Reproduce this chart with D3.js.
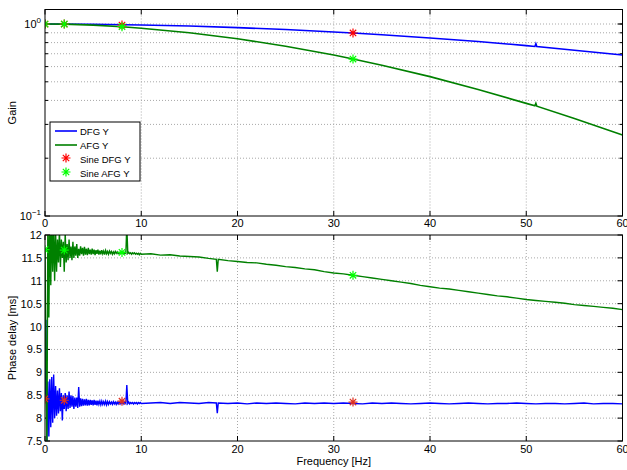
<!DOCTYPE html>
<html>
<head>
<meta charset="UTF-8">
<title>Gain and phase delay</title>
<script src="https://d3js.org/d3.v7.min.js"></script>
<style>
  body { margin: 0; background: #fff; font-family: "Liberation Sans", Arial, Helvetica, sans-serif; }
  .grid line { stroke: #a8a8a8; stroke-dasharray: 1,2; stroke-width: 1; }
  .tick-label { font-size: 11px; fill: #000; }
  .axis-title { font-size: 11px; fill: #000; }
  .legend text { font-size: 9.5px; fill: #000; }
</style>
</head>
<body>
<div id="chart"></div>
<script>
// ---- data ----
const xTicks = [0, 10, 20, 30, 40, 50, 60];
const gainMinor = [0.2, 0.3, 0.4, 0.5, 0.6, 0.7, 0.8, 0.9, 1];
const phaseTicks = [7.5, 8, 8.5, 9, 9.5, 10, 10.5, 11, 11.5, 12];

// gain curves
const gainFreqDFG = [0, 5, 10, 15, 20, 25, 30, 32, 35, 40, 45, 50, 50.9, 51, 51.1, 55, 60];
const gainDFG     = [1.0, 0.997, 0.989, 0.976, 0.958, 0.936, 0.909, 0.898, 0.879, 0.846, 0.81, 0.772, 0.764, 0.79, 0.763, 0.73, 0.689];
const gainFreqAFG = [0, 2, 5, 8, 10, 15, 20, 25, 30, 32, 35, 40, 45, 50, 50.9, 51, 51.1, 55, 60];
const gainAFG     = [1.0, 0.998, 0.987, 0.968, 0.951, 0.901, 0.838, 0.766, 0.689, 0.657, 0.61, 0.532, 0.456, 0.386, 0.375, 0.386, 0.373, 0.322, 0.264];

// sine measurements
const sineFreq     = [0, 2, 8, 32];
const sineGainDFG  = [1.0, 1.0, 0.988, 0.898];
const sineGainAFG  = [1.0, 1.0, 0.968, 0.657];
const sinePhaseDFG = [8.42, 8.39, 8.37, 8.35];
const sinePhaseAFG = [11.68, 11.67, 11.62, 11.12];

// phase delay, 0..10 Hz every 0.1 Hz
const lowFreq = d3.range(0, 101).map(i => i / 10);
const lowPhaseAFG = [
  11.70, 9.0, 7.3, 12.6, 10.2, 12.4, 10.9, 12.3, 11.2, 12.2,
  11.0, 12.1, 11.2, 11.9, 11.4, 12.1, 11.3, 11.9, 11.5, 11.85,
  11.2, 12.05, 11.4, 11.8, 11.45, 11.9, 11.5, 11.75, 11.45, 11.85,
  11.5, 11.75, 11.55, 11.8, 11.5, 11.7, 11.55, 11.75, 11.58, 11.72,
  11.55, 11.74, 11.57, 11.7, 11.56, 11.72, 11.58, 11.68, 11.57, 11.7,
  11.58, 11.68, 11.56, 11.67, 11.59, 11.68, 11.57, 11.66, 11.58, 11.67,
  11.59, 11.65, 11.57, 11.66, 11.59, 11.64, 11.58, 11.65, 11.6, 11.64,
  11.58, 11.63, 11.59, 11.64, 11.6, 11.63, 11.59, 11.62, 11.6, 11.63,
  11.6, 11.62, 11.59, 11.62, 11.6, 12.2, 11.6, 11.62, 11.59, 11.61,
  11.58, 11.61, 11.59, 11.61, 11.58, 11.6, 11.58, 11.6, 11.57, 11.6,
  11.58
];
const lowPhaseDFG = [
  8.42, 10.15, 7.4, 8.8, 7.6, 8.85, 7.8, 8.9, 7.9, 8.95,
  8.0, 8.7, 8.05, 8.6, 8.1, 8.65, 8.15, 8.55, 7.95, 8.5,
  8.2, 8.55, 8.15, 8.5, 8.2, 8.58, 8.22, 8.5, 8.25, 8.48,
  8.2, 8.45, 8.25, 8.45, 8.22, 8.68, 8.25, 8.43, 8.26, 8.42,
  8.27, 8.41, 8.28, 8.42, 8.27, 8.4, 8.28, 8.4, 8.29, 8.39,
  8.28, 8.4, 8.29, 8.38, 8.28, 8.38, 8.3, 8.37, 8.29, 8.37,
  8.3, 8.36, 8.3, 8.37, 8.29, 8.36, 8.3, 8.36, 8.31, 8.35,
  8.3, 8.36, 8.31, 8.35, 8.3, 8.35, 8.31, 8.35, 8.31, 8.35,
  8.32, 8.35, 8.31, 8.35, 8.32, 8.72, 8.32, 8.35, 8.31, 8.34,
  8.32, 8.34, 8.31, 8.34, 8.32, 8.34, 8.31, 8.34, 8.32, 8.34,
  8.32
];

// phase delay above 10 Hz
const hiFreq = [11, 12, 13, 14, 15, 16, 17, 17.8, 17.9, 18, 19, 20, 21, 22, 23, 24, 25, 26, 27, 28, 29,
  30, 31, 32, 33, 34, 35, 36, 37, 38, 39, 40, 41, 42, 43, 44, 45, 46, 47, 48, 49, 50,
  51, 52, 53, 54, 55, 56, 57, 58, 59, 60];
const hiPhaseAFG = [11.59, 11.56, 11.57, 11.54, 11.53, 11.52, 11.49, 11.47, 11.2, 11.47, 11.44, 11.42, 11.40, 11.39, 11.36, 11.34, 11.31, 11.29, 11.26, 11.24, 11.2,
  11.17, 11.15, 11.12, 11.09, 11.06, 11.03, 11.0, 10.97, 10.94, 10.9, 10.87, 10.84, 10.82, 10.79, 10.76, 10.73, 10.70, 10.67, 10.65, 10.62, 10.59,
  10.57, 10.55, 10.53, 10.51, 10.48, 10.46, 10.44, 10.42, 10.4, 10.37];
const hiPhaseDFG = [8.33, 8.34, 8.32, 8.34, 8.33, 8.32, 8.34, 8.33, 8.11, 8.33, 8.32, 8.33, 8.31, 8.33, 8.32, 8.33, 8.32, 8.31, 8.33, 8.32, 8.33,
  8.32, 8.33, 8.32, 8.31, 8.33, 8.32, 8.33, 8.32, 8.31, 8.32, 8.33, 8.32, 8.31, 8.32, 8.33, 8.32, 8.31, 8.32, 8.32, 8.33, 8.32,
  8.31, 8.32, 8.32, 8.31, 8.32, 8.33, 8.31, 8.32, 8.32, 8.31];

const seriesNames = ["DFG Y", "AFG Y", "Sine DFG Y", "Sine AFG Y"];

// ---- layout ----
const W = 627, H = 470;
const left = 45, right = 622.5;
const top1 = 9.5, bot1 = 216;
const top2 = 235, bot2 = 441;
const blue = "#0000ff", green = "#008000", red = "#ff0000", lime = "#00ff00";

const svg = d3.select("#chart").append("svg")
  .attr("width", W).attr("height", H);

const x = d3.scaleLinear().domain([0, 60]).range([left, right]);
const yG = d3.scaleLog().domain([0.1, 1.19]).range([bot1, top1]);
const yP = d3.scaleLinear().domain([7.5, 12]).range([bot2, top2]);

const defs = svg.append("defs");
defs.append("clipPath").attr("id", "clip1").append("rect")
  .attr("x", left).attr("y", top1).attr("width", right - left).attr("height", bot1 - top1);
defs.append("clipPath").attr("id", "clip2").append("rect")
  .attr("x", left).attr("y", top2).attr("width", right - left).attr("height", bot2 - top2);

function star(g, xs, ys, color) {
  const r = 4.5, k = 3.2;
  g.selectAll(null).data(xs).enter().append("path")
    .attr("d", (d, i) => {
      const cx = x(d), cy = ys(i);
      return `M${cx - r},${cy}L${cx + r},${cy}M${cx},${cy - r}L${cx},${cy + r}` +
             `M${cx - k},${cy - k}L${cx + k},${cy + k}M${cx - k},${cy + k}L${cx + k},${cy - k}`;
    })
    .attr("stroke", color).attr("stroke-width", 1.2).attr("fill", "none");
}

function frame(top, bot, yTicks, yScale, minor) {
  const g = svg.append("g");
  // grid
  const grid = g.append("g").attr("class", "grid");
  grid.selectAll(null).data(xTicks.slice(1, -1)).enter().append("line")
    .attr("x1", d => x(d)).attr("x2", d => x(d)).attr("y1", top).attr("y2", bot);
  grid.selectAll(null).data(yTicks.filter(v => yScale(v) > top + 1 && yScale(v) < bot - 1)).enter().append("line")
    .attr("x1", left).attr("x2", right).attr("y1", d => yScale(d)).attr("y2", d => yScale(d));
  // x ticks (bottom and top, inward)
  const tk = g.append("g").attr("stroke", "#000").attr("stroke-width", 1);
  xTicks.forEach(v => {
    tk.append("line").attr("x1", x(v)).attr("x2", x(v)).attr("y1", bot).attr("y2", bot - 5);
    tk.append("line").attr("x1", x(v)).attr("x2", x(v)).attr("y1", top).attr("y2", top + 5);
  });
  const len = minor ? 3 : 5;
  yTicks.forEach(v => {
    const yy = yScale(v);
    tk.append("line").attr("x1", left).attr("x2", left + len).attr("y1", yy).attr("y2", yy);
    tk.append("line").attr("x1", right).attr("x2", right - len).attr("y1", yy).attr("y2", yy);
  });
  return g;
}

// ---- top: gain ----
frame(top1, bot1, gainMinor, yG, true);
const ticks1 = svg.append("g").attr("stroke", "#000");
[1, 0.1].forEach(v => {
  ticks1.append("line").attr("x1", left).attr("x2", left + 5).attr("y1", yG(v)).attr("y2", yG(v));
  ticks1.append("line").attr("x1", right).attr("x2", right - 5).attr("y1", yG(v)).attr("y2", yG(v));
});

const p1 = svg.append("g").attr("clip-path", "url(#clip1)");
const lineG = (fs, vs) => d3.line().x((d, i) => x(fs[i])).y(d => yG(d))(vs);
p1.append("path").attr("d", lineG(gainFreqDFG, gainDFG))
  .attr("fill", "none").attr("stroke", blue).attr("stroke-width", 1.6);
p1.append("path").attr("d", lineG(gainFreqAFG, gainAFG))
  .attr("fill", "none").attr("stroke", green).attr("stroke-width", 1.6);
star(p1, sineFreq, i => yG(sineGainDFG[i]), red);
star(p1, sineFreq, i => yG(sineGainAFG[i]), lime);

svg.append("rect").attr("x", left).attr("y", top1).attr("width", right - left).attr("height", bot1 - top1)
  .attr("fill", "none").attr("stroke", "#000").attr("stroke-width", 1);

// y tick labels with exponents
[[1, "0"], [0.1, "\u22121"]].forEach(([v, e]) => {
  const t = svg.append("text").attr("class", "tick-label")
    .attr("x", left - 4).attr("y", yG(v) + 4).attr("text-anchor", "end");
  t.append("tspan").text("10");
  t.append("tspan").attr("dy", -5).style("font-size", "8px").text(e);
});
svg.selectAll(null).data(xTicks).enter().append("text").attr("class", "tick-label")
  .attr("x", d => x(d)).attr("y", bot1 + 11).attr("text-anchor", "middle").text(d => d);
svg.append("text").attr("class", "axis-title")
  .attr("transform", `translate(16,${(top1 + bot1) / 2}) rotate(-90)`)
  .attr("text-anchor", "middle").text("Gain");

// legend
const lg = svg.append("g").attr("class", "legend");
lg.append("rect").attr("x", 50).attr("y", 122).attr("width", 90).attr("height", 59)
  .attr("fill", "#fff").attr("stroke", "#000").attr("stroke-width", 1);
seriesNames.forEach((name, i) => {
  const yy = 131 + i * 14;
  if (i < 2) {
    lg.append("line").attr("x1", 55).attr("x2", 77).attr("y1", yy).attr("y2", yy)
      .attr("stroke", i === 0 ? blue : green).attr("stroke-width", 1.6);
  }
  lg.append("text").attr("x", 80).attr("y", yy + 3.5).text(name);
});
const legendStars = lg.append("g");
[[158, red], [172, lime]].forEach(([yy, c]) => {
  const r = 4.5, k = 3.2, cx = 66;
  legendStars.append("path")
    .attr("d", `M${cx - r},${yy}L${cx + r},${yy}M${cx},${yy - r}L${cx},${yy + r}M${cx - k},${yy - k}L${cx + k},${yy + k}M${cx - k},${yy + k}L${cx + k},${yy - k}`)
    .attr("stroke", c).attr("stroke-width", 1.2).attr("fill", "none");
});

// ---- bottom: phase delay ----
frame(top2, bot2, phaseTicks, yP, false);
const p2 = svg.append("g").attr("clip-path", "url(#clip2)");
const lineP = (fs, vs) => d3.line().x((d, i) => x(fs[i])).y(d => yP(d))(vs);
const dfgF = lowFreq.concat(hiFreq), dfgV = lowPhaseDFG.concat(hiPhaseDFG);
const afgF = lowFreq.concat(hiFreq), afgV = lowPhaseAFG.concat(hiPhaseAFG);
p2.append("path").attr("d", lineP(dfgF, dfgV))
  .attr("fill", "none").attr("stroke", blue).attr("stroke-width", 1.4);
p2.append("path").attr("d", lineP(afgF, afgV))
  .attr("fill", "none").attr("stroke", green).attr("stroke-width", 1.4);
star(p2, sineFreq, i => yP(sinePhaseDFG[i]), "#e03020");
star(p2, sineFreq, i => yP(sinePhaseAFG[i]), lime);

svg.append("rect").attr("x", left).attr("y", top2).attr("width", right - left).attr("height", bot2 - top2)
  .attr("fill", "none").attr("stroke", "#000").attr("stroke-width", 1);

svg.selectAll(null).data(phaseTicks).enter().append("text").attr("class", "tick-label")
  .attr("x", left - 3).attr("y", d => yP(d) + 4).attr("text-anchor", "end").text(d => d);
svg.selectAll(null).data(xTicks).enter().append("text").attr("class", "tick-label")
  .attr("x", d => x(d)).attr("y", bot2 + 12).attr("text-anchor", "middle").text(d => d);
svg.append("text").attr("class", "axis-title")
  .attr("transform", `translate(16,${(top2 + bot2) / 2}) rotate(-90)`)
  .attr("text-anchor", "middle").text("Phase delay [ms]");
svg.append("text").attr("class", "axis-title")
  .attr("x", (left + right) / 2).attr("y", bot2 + 24).attr("text-anchor", "middle").text("Frequency [Hz]");
</script>
</body>
</html>
